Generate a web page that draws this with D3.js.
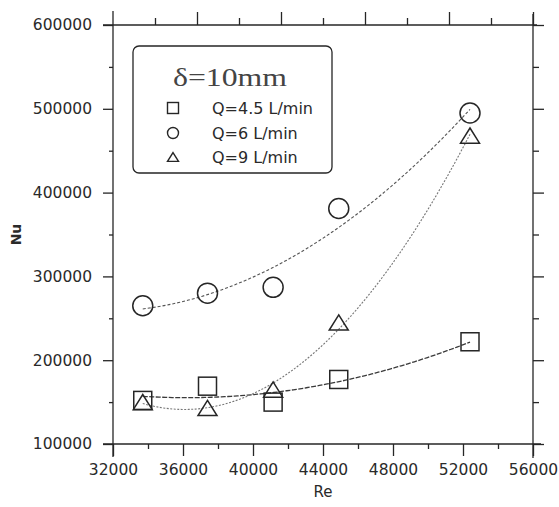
<!DOCTYPE html>
<html>
<head>
<meta charset="utf-8">
<script src="https://cdn.jsdelivr.net/npm/d3@7/dist/d3.min.js"></script>
<style>
  html, body { margin: 0; padding: 0; background: #fff; }
  svg { display: block; }
  text { fill: #2a2a2a; }
</style>
</head>
<body>
<svg id="chart" width="559" height="507"></svg>
<script>
// Reynolds number of each run (shared by all three flow rates)
const re = [33700, 37400, 41150, 44900, 52400];

// Nusselt number for each flow rate
const nuQ45 = [152000, 169000, 150000, 177000, 222000];
const nuQ6  = [265000, 280000, 287000, 381000, 495000];
const nuQ9  = [150000, 143000, 165000, 245000, 468000];

const seriesNames = ["Q=4.5 L/min", "Q=6 L/min", "Q=9 L/min"];
const seriesSymbols = ["square", "circle", "triangle"];

const xTicks = [32000, 36000, 40000, 44000, 48000, 52000, 56000];
const yTicks = [100000, 200000, 300000, 400000, 500000, 600000];

const legendTitle = "\u03b4=10mm";
const xTitle = "Re";
const yTitle = "Nu";

const svg = d3.select("#chart");
const ink = "#262626";

const x = d3.scaleLinear().domain([32000, 56000]).range([113, 533]);
const y = d3.scaleLinear().domain([100000, 600000]).range([444, 25]);

// ---- frame lines (slightly overshooting at the corners)
const frame = svg.append("g").attr("stroke", ink).attr("stroke-width", 1.3);
frame.append("line").attr("x1", x.range()[0]).attr("x2", x.range()[0]).attr("y1", 11).attr("y2", 457);
frame.append("line").attr("x1", x.range()[1]).attr("x2", x.range()[1]).attr("y1", 14).attr("y2", 458);
frame.append("line").attr("x1", 103).attr("x2", 537).attr("y1", y.range()[1]).attr("y2", y.range()[1]);
frame.append("line").attr("x1", 103).attr("x2", 541).attr("y1", y.range()[0]).attr("y2", y.range()[0]);

function styleAxis(g) {
  g.select(".domain").remove();
  g.selectAll(".tick line").attr("stroke", ink).attr("stroke-width", 1.3);
  g.selectAll(".tick text")
    .attr("font-family", "DejaVu Sans, sans-serif")
    .attr("font-size", 15.5)
    .attr("fill", "#2a2a2a");
}

// bottom axis: labelled majors, unlabelled minors
const xMinor = d3.range(34000, 56000, 4000);
svg.append("g").attr("transform", `translate(0,${y.range()[0]})`)
  .call(d3.axisBottom(x).tickValues(xTicks).tickSize(12).tickPadding(8).tickFormat(d3.format("d")))
  .call(styleAxis);
svg.append("g").attr("transform", `translate(0,${y.range()[0]})`)
  .call(d3.axisBottom(x).tickValues(xMinor).tickSize(5).tickFormat(""))
  .call(styleAxis);

// left axis
const yMinor = d3.range(150000, 600000, 100000);
svg.append("g").attr("transform", `translate(${x.range()[0]},0)`)
  .call(d3.axisLeft(y).tickValues(yTicks).tickSize(10).tickPadding(11).tickFormat(d3.format("d")))
  .call(styleAxis);
svg.append("g").attr("transform", `translate(${x.range()[0]},0)`)
  .call(d3.axisLeft(y).tickValues(yMinor).tickSize(4).tickFormat(""))
  .call(styleAxis);

// right axis: ticks only
svg.append("g").attr("transform", `translate(${x.range()[1]},0)`)
  .call(d3.axisRight(y).tickValues(yTicks).tickSize(11).tickFormat(""))
  .call(styleAxis);
svg.append("g").attr("transform", `translate(${x.range()[1]},0)`)
  .call(d3.axisRight(y).tickValues(yMinor).tickSize(6).tickFormat(""))
  .call(styleAxis);

// top axis: ten equal divisions, ticks only
const xTop = d3.scaleLinear().domain([0, 10]).range(x.range());
svg.append("g").attr("transform", `translate(0,${y.range()[1]})`)
  .call(d3.axisTop(xTop).tickValues([2, 4, 6, 8, 10]).tickSize(13).tickFormat(""))
  .call(styleAxis);
svg.append("g").attr("transform", `translate(0,${y.range()[1]})`)
  .call(d3.axisTop(xTop).tickValues([1, 3, 5, 7, 9]).tickSize(7).tickFormat(""))
  .call(styleAxis);

// axis titles
svg.append("text")
  .attr("x", (x.range()[0] + x.range()[1]) / 2).attr("y", 497)
  .attr("text-anchor", "middle")
  .attr("font-family", "DejaVu Sans, sans-serif").attr("font-size", 15)
  .text(xTitle);
svg.append("text")
  .attr("transform", `translate(21,${(y.range()[0] + y.range()[1]) / 2}) rotate(-90)`)
  .attr("text-anchor", "middle")
  .attr("font-family", "DejaVu Sans, sans-serif").attr("font-size", 14).attr("font-weight", "bold")
  .text(yTitle);

// ---- quadratic least-squares trend for each series
function quadFit(xs, ys) {
  const mx = d3.mean(xs), sx = 1000;
  const u = xs.map(v => (v - mx) / sx);
  let S = [0, 0, 0, 0, 0], T = [0, 0, 0];
  u.forEach((t, i) => {
    for (let k = 0; k < 5; k++) S[k] += Math.pow(t, k);
    for (let k = 0; k < 3; k++) T[k] += ys[i] * Math.pow(t, k);
  });
  const A = [[S[0], S[1], S[2], T[0]], [S[1], S[2], S[3], T[1]], [S[2], S[3], S[4], T[2]]];
  for (let c = 0; c < 3; c++) {
    for (let r = c + 1; r < 3; r++) {
      const f = A[r][c] / A[c][c];
      for (let k = c; k < 4; k++) A[r][k] -= f * A[c][k];
    }
  }
  const b = [0, 0, 0];
  for (let r = 2; r >= 0; r--) {
    let s = A[r][3];
    for (let k = r + 1; k < 3; k++) s -= A[r][k] * b[k];
    b[r] = s / A[r][r];
  }
  return v => { const t = (v - mx) / sx; return b[0] + b[1] * t + b[2] * t * t; };
}

const seriesValues = [nuQ45, nuQ6, nuQ9];
const curveStyles = [
  { stroke: "#3a3a3a", dash: "5,1.5", width: 1.3 },
  { stroke: "#555", dash: "3,2", width: 1.1 },
  { stroke: "#777", dash: "2,1.5", width: 1.1 }
];

const line = d3.line().x(d => x(d[0])).y(d => y(d[1]));
seriesValues.forEach((vals, i) => {
  const f = quadFit(re, vals);
  const lo = d3.min(re), hi = d3.max(re);
  const pts = d3.range(0, 101).map(k => { const v = lo + (hi - lo) * k / 100; return [v, f(v)]; });
  svg.append("path").datum(pts)
    .attr("d", line)
    .attr("fill", "none")
    .attr("stroke", curveStyles[i].stroke)
    .attr("stroke-width", curveStyles[i].width)
    .attr("stroke-dasharray", curveStyles[i].dash);
});

// ---- markers
function drawSymbol(g, kind, cx, cy, size) {
  if (kind === "square") {
    g.append("rect").attr("x", cx - size / 2).attr("y", cy - size / 2)
      .attr("width", size).attr("height", size);
  } else if (kind === "circle") {
    g.append("circle").attr("cx", cx).attr("cy", cy).attr("r", size / 2);
  } else {
    const h = size * 0.8;
    g.append("path").attr("d",
      `M${cx},${cy - h / 2}L${cx + size / 2},${cy + h / 2}L${cx - size / 2},${cy + h / 2}Z`);
  }
}

const markerSizes = [18, 20, 19];
seriesValues.forEach((vals, i) => {
  const g = svg.append("g").attr("fill", "none").attr("stroke", ink).attr("stroke-width", 1.5);
  vals.forEach((v, j) => drawSymbol(g, seriesSymbols[i], x(re[j]), y(v), markerSizes[i]));
});

// ---- legend
const lg = svg.append("g");
lg.append("rect").attr("x", 133).attr("y", 46).attr("width", 199).attr("height", 127)
  .attr("rx", 6).attr("fill", "#fff").attr("stroke", ink).attr("stroke-width", 1.3);
lg.append("text").attr("x", 173).attr("y", 86)
  .attr("font-family", "Liberation Serif, serif").attr("font-size", 25)
  .attr("textLength", 114).attr("lengthAdjust", "spacingAndGlyphs")
  .style("fill", "#444")
  .text(legendTitle);
const rowY = [114, 139, 163];
seriesNames.forEach((name, i) => {
  const gs = lg.append("g").attr("fill", "none").attr("stroke", ink).attr("stroke-width", 1.4);
  drawSymbol(gs, seriesSymbols[i], 173, rowY[i] - 6, 11);
  lg.append("text").attr("x", 212).attr("y", rowY[i])
    .attr("font-family", "DejaVu Sans, sans-serif").attr("font-size", 16)
    .text(name);
});
</script>
</body>
</html>
